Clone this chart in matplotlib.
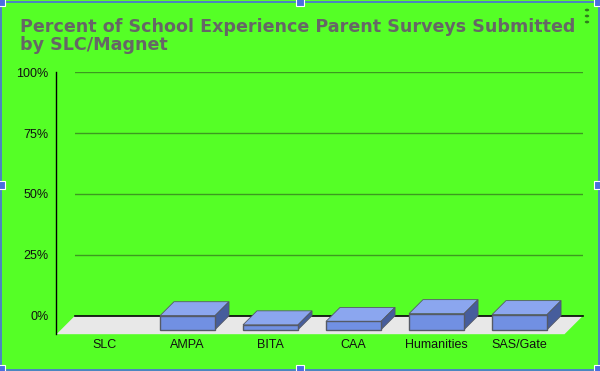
import matplotlib
matplotlib.use('Agg')
import matplotlib.pyplot as plt
from matplotlib.patches import Polygon, Rectangle
from matplotlib.transforms import offset_copy

# data
categories = ["SLC", "AMPA", "BITA", "CAA", "Humanities", "SAS/Gate"]
percent_submitted = [0.0, 5.75, 2.0, 3.4, 6.6, 6.2]
y_ticks = [0, 25, 50, 75, 100]
y_tick_labels = ["0%", "25%", "50%", "75%", "100%"]
title_lines = ["Percent of School Experience Parent Surveys Submitted", "by SLC/Magnet"]

BG = '#55ff26'
FRONT = '#7190e3'
TOP = '#8ba6ef'
SIDE = '#465d9c'
EDGE = '#555a66'
GRID = '#3c9a20'

plt.rcParams['font.family'] = ['Liberation Sans', 'DejaVu Sans']

W, H = 600, 371
fig = plt.figure(figsize=(6.0, 3.71), dpi=100)
fig.patch.set_facecolor(BG)

# axes = back wall of the 3d plot
ax = fig.add_axes([75 / W, (H - 315.7) / H, (583 - 75) / W, (315.7 - 72.3) / H])
ax.set_facecolor('none')
ax.set_xlim(-0.524, 5.596)
ax.set_ylim(0, 100)
for s in ax.spines.values():
    s.set_visible(False)
ax.set_xticks([])
ax.set_yticks(y_ticks)
ax.set_yticklabels(y_tick_labels, fontsize=9, color='#111111')
ax.tick_params(axis='y', length=0, pad=19)
ax.yaxis.grid(True, color=GRID, linewidth=1)
ax.set_axisbelow(True)

fig.canvas.draw()
inv = ax.transData.inverted()


def px_to_data(dx, dy):
    x0, y0 = ax.transData.transform((0, 0))
    a = inv.transform((x0, y0))
    b = inv.transform((x0 + dx, y0 + dy))
    return b[0] - a[0], b[1] - a[1]


bdx, bdy = px_to_data(-14, -14)      # bar depth
fdx, fdy = px_to_data(-18.5, -18.5)  # floor depth
xl = ax.get_xlim()

# floor
floor = Polygon([(xl[0], 0), (xl[1], 0), (xl[1] + fdx, fdy), (xl[0] + fdx, fdy)],
                closed=True, facecolor='#e8e8e8', edgecolor='none', clip_on=False, zorder=2)
ax.add_patch(floor)
ax.plot([xl[0], xl[1]], [0, 0], color='black', linewidth=1.2, zorder=3, clip_on=False)

# vertical axis line at front-left
ax.plot([xl[0] + fdx, xl[0] + fdx], [fdy, 100], color='black', linewidth=1,
        zorder=3, clip_on=False)

bw = 0.663
for i, v in enumerate(percent_submitted):
    if v <= 0:
        continue
    x0, x1 = i - bw / 2, i + bw / 2
    top = Polygon([(x0, v), (x1, v), (x1 + bdx, v + bdy), (x0 + bdx, v + bdy)],
                  closed=True, facecolor=TOP, edgecolor=EDGE, linewidth=0.6,
                  clip_on=False, zorder=4)
    side = Polygon([(x1, 0), (x1, v), (x1 + bdx, v + bdy), (x1 + bdx, bdy)],
                   closed=True, facecolor=SIDE, edgecolor=EDGE, linewidth=0.6,
                   clip_on=False, zorder=4)
    front = Polygon([(x0 + bdx, bdy), (x1 + bdx, bdy), (x1 + bdx, v + bdy), (x0 + bdx, v + bdy)],
                    closed=True, facecolor=FRONT, edgecolor=EDGE, linewidth=1,
                    clip_on=False, zorder=5)
    ax.add_patch(top)
    ax.add_patch(side)
    ax.add_patch(front)

# category labels under the front edge
lab_tr = offset_copy(ax.transData, fig=fig, x=0, y=-29, units='dots')
for i, c in enumerate(categories):
    ax.text(i + bdx, 0, c, transform=lab_tr, ha='center', va='center',
            fontsize=9, color='#111111', clip_on=False)

# title (wide heavy face in the original, DejaVu bold is the closest width)
for line, base in zip(title_lines, (32.3, 50.0)):
    fig.text(19.5 / W, 1 - base / H, line, ha='left', va='baseline', fontsize=12.6,
             fontweight='bold', color='#666666', family=['DejaVu Sans'])

# three-dot menu
for yy in (10, 16, 22):
    fig.patches.append(plt.Circle((587 / W, 1 - yy / H), 2.2 / W, transform=fig.transFigure,
                                  facecolor='#2f7d1c', edgecolor='none'))

# selection frame and handles
fig.patches.append(Rectangle((1 / W, 1 / H), 597.5 / W, 368 / H, transform=fig.transFigure,
                             facecolor='none', edgecolor='#4a6ee0', linewidth=1.2))
for hx, hy in [(1, 2), (300, 2), (598, 2), (1, 185), (598, 185), (1, 369), (300, 369), (598, 369)]:
    fig.patches.append(Rectangle(((hx - 4) / W, 1 - (hy + 4) / H), 8 / W, 8 / H,
                                 transform=fig.transFigure, facecolor='#4a6ee0',
                                 edgecolor='white', linewidth=0.8, zorder=10))

fig.savefig('out.png', dpi=100, facecolor=fig.get_facecolor())
